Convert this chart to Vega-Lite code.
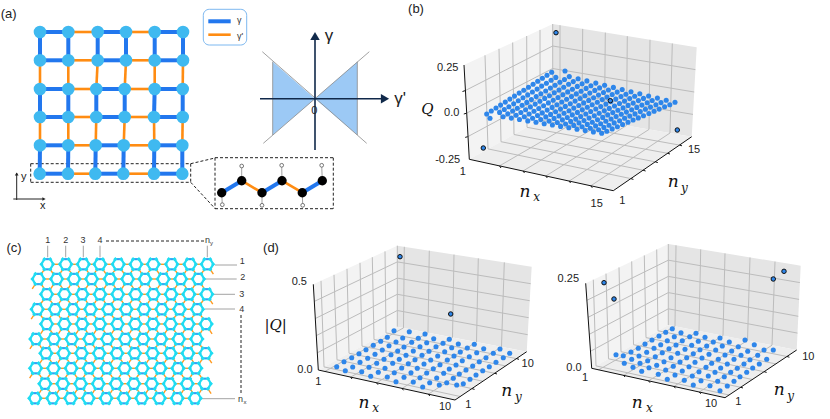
{"$schema":"https://vega.github.io/schema/vega-lite/v6.json","width":830,"height":419,"padding":0,"autosize":"none","background":"white","config":{"view":{"stroke":null}},
"datasets":{
"panes":[
{"p":"b1","w":"L","x":464,"y":65,"y2":65},{"p":"b1","w":"L","x":469.3,"y":62.5,"y2":159.3},{"p":"b1","w":"L","x":552.7,"y":24,"y2":113},
{"p":"b2","w":"R","x":552.7,"y":24,"y2":113},{"p":"b2","w":"R","x":691.7,"y":46.5,"y2":136.7},{"p":"b2","w":"R","x":696.7,"y":47.3,"y2":47.3},
{"p":"b3","w":"F","x":469.3,"y":159.3,"y2":159.3},{"p":"b3","w":"F","x":552.7,"y":113,"y2":177.5},{"p":"b3","w":"F","x":613.3,"y":123.3,"y2":190.7},{"p":"b3","w":"F","x":691.7,"y":136.7,"y2":136.7},
{"p":"c1","w":"L","x":313.3,"y":284.3,"y2":284.3},{"p":"c1","w":"L","x":318.3,"y":282,"y2":370},{"p":"c1","w":"L","x":397.3,"y":245.7,"y2":326.7},
{"p":"c2","w":"R","x":397.3,"y":245.7,"y2":326.7},{"p":"c2","w":"R","x":526.7,"y":265.9,"y2":351.7},{"p":"c2","w":"R","x":531.7,"y":266.7,"y2":266.7},
{"p":"c3","w":"F","x":318.3,"y":370,"y2":370},{"p":"c3","w":"F","x":397.3,"y":326.7,"y2":387.3},{"p":"c3","w":"F","x":455,"y":338,"y2":400},{"p":"c3","w":"F","x":526.7,"y":351.7,"y2":351.7},
{"p":"d1","w":"L","x":585.7,"y":283.3,"y2":283.3},{"p":"d1","w":"L","x":591.7,"y":280.4,"y2":368.3},{"p":"d1","w":"L","x":668.3,"y":244,"y2":325},
{"p":"d2","w":"R","x":668.3,"y":244,"y2":325},{"p":"d2","w":"R","x":796.7,"y":265,"y2":350},{"p":"d2","w":"R","x":800.7,"y":265.7,"y2":265.7},
{"p":"d3","w":"F","x":591.7,"y":368.3,"y2":368.3},{"p":"d3","w":"F","x":668.3,"y":325,"y2":385.2},{"p":"d3","w":"F","x":725,"y":336,"y2":397.7},{"p":"d3","w":"F","x":796.7,"y":350,"y2":350}
],
"tri":[
{"p":"l","x":272.7,"y":61.7,"y2":135},{"p":"l","x":315,"y":98.7,"y2":98.7},{"p":"r","x":315,"y":98.7,"y2":98.7},{"p":"r","x":357.3,"y":61.7,"y2":135}
],
"grid":[
{"x":485,"y":55.3,"x2":488,"y2":148.9},{"x":499,"y":48.8,"x2":501,"y2":141.7},{"x":512.7,"y":42.5,"x2":514,"y2":134.5},{"x":526.7,"y":36,"x2":527,"y2":127.3},{"x":540,"y":29.9,"x2":540,"y2":120},
{"x":465,"y":90.7,"x2":552.7,"y2":46},{"x":466.3,"y":113.3,"x2":552.7,"y2":68.5},{"x":467.7,"y":136.7,"x2":552.7,"y2":91},
{"x":552.7,"y":46,"x2":695.4,"y2":69.6},{"x":552.7,"y":68.5,"x2":694.2,"y2":92},{"x":552.7,"y":91,"x2":693,"y2":114.4},
{"x":552.7,"y":24,"x2":552.7,"y2":113},{"x":560,"y":25.2,"x2":560,"y2":114.2},{"x":582.7,"y":28.9,"x2":582,"y2":118},{"x":605.3,"y":32.6,"x2":604.5,"y2":121.7},{"x":627.3,"y":36.2,"x2":626.5,"y2":125.5},{"x":650,"y":39.8,"x2":649,"y2":129.4},{"x":672.3,"y":43.5,"x2":670,"y2":133},
{"x":488,"y":148.9,"x2":630.9,"y2":178.6},{"x":501,"y":141.7,"x2":643.1,"y2":170.2},{"x":514,"y":134.5,"x2":655.3,"y2":161.8},{"x":527,"y":127.3,"x2":667.6,"y2":153.3},{"x":540,"y":120,"x2":679.6,"y2":145.1},
{"x":582,"y":118,"x2":499.5,"y2":165.9},{"x":604.5,"y":121.7,"x2":523,"y2":171},{"x":626.5,"y":125.5,"x2":545.8,"y2":176},{"x":649,"y":129.4,"x2":569.1,"y2":181.1},{"x":670,"y":133,"x2":590.8,"y2":185.8},
{"x":321,"y":280.8,"x2":324,"y2":366.9},{"x":334,"y":274.8,"x2":337,"y2":359.8},{"x":347,"y":268.8,"x2":349,"y2":353.2},{"x":360,"y":262.8,"x2":362,"y2":346.1},{"x":372.3,"y":257.2,"x2":374,"y2":339.5},{"x":385,"y":251.4,"x2":386,"y2":332.9},
{"x":314.3,"y":301.4,"x2":397.3,"y2":261.9},{"x":315.3,"y":318.5,"x2":397.3,"y2":278.1},{"x":316.3,"y":335.6,"x2":397.3,"y2":294.3},{"x":317.3,"y":352.8,"x2":397.3,"y2":310.5},
{"x":397.3,"y":261.9,"x2":530.7,"y2":283.7},{"x":397.3,"y":278.1,"x2":529.7,"y2":300.7},{"x":397.3,"y":294.3,"x2":528.7,"y2":317.7},{"x":397.3,"y":310.5,"x2":527.7,"y2":334.7},
{"x":397.3,"y":245.7,"x2":397.3,"y2":326.7},{"x":404.3,"y":246.8,"x2":403.5,"y2":327.9},{"x":429.3,"y":250.7,"x2":428,"y2":332.7},{"x":454,"y":254.6,"x2":452.5,"y2":337.4},{"x":478.3,"y":258.4,"x2":476.5,"y2":342},{"x":504.3,"y":262.4,"x2":501.5,"y2":346.8},
{"x":324,"y":366.9,"x2":460.2,"y2":396.5},{"x":337,"y":359.8,"x2":472,"y2":388.6},{"x":349,"y":353.2,"x2":482.9,"y2":381.2},{"x":362,"y":346.1,"x2":494.7,"y2":373.3},{"x":374,"y":339.5,"x2":505.5,"y2":365.9},{"x":386,"y":332.9,"x2":516.4,"y2":358.6},
{"x":403.5,"y":327.9,"x2":324.9,"y2":371.4},{"x":428,"y":332.7,"x2":350.7,"y2":377.1},{"x":452.5,"y":337.4,"x2":376.5,"y2":382.8},{"x":476.5,"y":342,"x2":402,"y2":388.4},{"x":501.5,"y":346.8,"x2":428.3,"y2":394.2},
{"x":593.3,"y":279.7,"x2":596,"y2":365.9},{"x":606,"y":273.6,"x2":608.5,"y2":358.8},{"x":619,"y":267.4,"x2":621,"y2":351.7},{"x":631.7,"y":261.4,"x2":633.5,"y2":344.7},{"x":644.3,"y":255.4,"x2":646,"y2":337.6},{"x":656.7,"y":249.5,"x2":658,"y2":330.8},
{"x":586.9,"y":300.3,"x2":668.3,"y2":260.2},{"x":588.1,"y":317.3,"x2":668.3,"y2":276.4},{"x":589.3,"y":334.3,"x2":668.3,"y2":292.6},{"x":590.5,"y":351.3,"x2":668.3,"y2":308.8},
{"x":668.3,"y":260.2,"x2":799.9,"y2":282.6},{"x":668.3,"y":276.4,"x2":799.1,"y2":299.4},{"x":668.3,"y":292.6,"x2":798.3,"y2":316.3},{"x":668.3,"y":308.8,"x2":797.5,"y2":333.1},
{"x":668.3,"y":244,"x2":668.3,"y2":325},{"x":676,"y":245.3,"x2":675,"y2":326.3},{"x":700.7,"y":249.4,"x2":699,"y2":331},{"x":725,"y":253.4,"x2":723,"y2":335.7},{"x":750,"y":257.5,"x2":747.5,"y2":340.5},{"x":775,"y":261.6,"x2":772,"y2":345.2},
{"x":596,"y":365.9,"x2":729,"y2":395},{"x":608.5,"y":358.8,"x2":740.7,"y2":387.3},{"x":621,"y":351.7,"x2":752.4,"y2":379.5},{"x":633.5,"y":344.7,"x2":764.1,"y2":371.7},{"x":646,"y":337.6,"x2":775.8,"y2":363.9},{"x":658,"y":330.8,"x2":787,"y2":356.5},
{"x":675,"y":326.3,"x2":598.6,"y2":369.8},{"x":699,"y":331,"x2":623.6,"y2":375.3},{"x":723,"y":335.7,"x2":648.5,"y2":380.8},{"x":747.5,"y":340.5,"x2":673.9,"y2":386.4},{"x":772,"y":345.2,"x2":699.3,"y2":392}
],
"axes":[
{"x":464,"y":65,"x2":469.3,"y2":159.3},{"x":469.3,"y":159.3,"x2":613.3,"y2":190.7},{"x":613.3,"y":190.7,"x2":691.7,"y2":136.7},
{"x":313.3,"y":284.3,"x2":318.3,"y2":370},{"x":318.3,"y":370,"x2":455,"y2":400},{"x":455,"y":400,"x2":526.7,"y2":351.7},
{"x":585.7,"y":283.3,"x2":591.7,"y2":368.3},{"x":591.7,"y":368.3,"x2":725,"y2":397.7},{"x":725,"y":397.7,"x2":796.7,"y2":350},
{"x":465,"y":90.7,"x2":462.5,"y2":91.5},{"x":466.3,"y":113.3,"x2":463.8,"y2":114},{"x":467.7,"y":136.7,"x2":465.2,"y2":137.4},
{"x":499.5,"y":165.9,"x2":501,"y2":168},{"x":523,"y":171,"x2":524.5,"y2":173},{"x":545.8,"y":176,"x2":547.3,"y2":178},{"x":569.1,"y":181.1,"x2":570.6,"y2":183},{"x":590.8,"y":185.8,"x2":592.3,"y2":187.8},
{"x":630.9,"y":178.6,"x2":633.4,"y2":179.4},{"x":643.1,"y":170.2,"x2":645.6,"y2":171},{"x":655.3,"y":161.8,"x2":657.8,"y2":162.6},{"x":667.6,"y":153.3,"x2":670,"y2":154},{"x":679.6,"y":145.1,"x2":682,"y2":145.8},
{"x":350.7,"y":377.1,"x2":352,"y2":379},{"x":376.5,"y":382.8,"x2":378,"y2":384.7},{"x":402,"y":388.4,"x2":403.5,"y2":390.3},{"x":428.3,"y":394.2,"x2":429.8,"y2":396},
{"x":472,"y":388.6,"x2":474.5,"y2":389.4},{"x":494.7,"y":373.3,"x2":497,"y2":374},{"x":516.4,"y":358.6,"x2":519,"y2":359.3},
{"x":623.6,"y":375.3,"x2":625,"y2":377},{"x":648.5,"y":380.8,"x2":650,"y2":382.7},{"x":673.9,"y":386.4,"x2":675.4,"y2":388.2},{"x":699.3,"y":392,"x2":700.8,"y2":393.8},
{"x":740.7,"y":387.3,"x2":743,"y2":388},{"x":764.1,"y":371.7,"x2":766.6,"y2":372.4},{"x":787,"y":356.5,"x2":789.4,"y2":357.2}
],
"blueBonds":[
{"x":40,"y":32,"x2":68.3,"y2":32},{"x":97.7,"y":32,"x2":126,"y2":32},{"x":154.7,"y":32,"x2":183,"y2":32},
{"x":40,"y":60.3,"x2":68.3,"y2":60.3},{"x":97.7,"y":60.3,"x2":126,"y2":60.3},{"x":154.7,"y":60.3,"x2":183,"y2":60.3},
{"x":40,"y":89,"x2":68.3,"y2":89},{"x":96.3,"y":89,"x2":124.7,"y2":89},{"x":154.7,"y":89,"x2":182.7,"y2":89},
{"x":40,"y":117,"x2":68.3,"y2":117},{"x":96.3,"y":117,"x2":124.7,"y2":117},{"x":154,"y":117,"x2":182.7,"y2":117},
{"x":40,"y":145.3,"x2":68.3,"y2":145.3},{"x":95.7,"y":145.3,"x2":123.7,"y2":145.3},{"x":154.3,"y":145.3,"x2":182.3,"y2":145.3},
{"x":39.7,"y":173.7,"x2":68,"y2":173.7},{"x":95.3,"y":173.7,"x2":123.3,"y2":173.7},{"x":154,"y":173.7,"x2":182.3,"y2":173.7},
{"x":40,"y":32,"x2":40,"y2":60.3},{"x":68.3,"y":32,"x2":68.3,"y2":60.3},{"x":97.7,"y":32,"x2":97.7,"y2":60.3},{"x":126,"y":32,"x2":126,"y2":60.3},{"x":154.7,"y":32,"x2":154.7,"y2":60.3},{"x":183,"y":32,"x2":183,"y2":60.3},
{"x":40,"y":89,"x2":40,"y2":117},{"x":68.3,"y":89,"x2":68.3,"y2":117},{"x":96.3,"y":89,"x2":96.3,"y2":117},{"x":124.7,"y":89,"x2":124.7,"y2":117},{"x":154.7,"y":89,"x2":154,"y2":117},{"x":182.7,"y":89,"x2":182.7,"y2":117},
{"x":40,"y":145.3,"x2":39.7,"y2":173.7},{"x":68.3,"y":145.3,"x2":68,"y2":173.7},{"x":95.7,"y":145.3,"x2":95.3,"y2":173.7},{"x":123.7,"y":145.3,"x2":123.3,"y2":173.7},{"x":154.3,"y":145.3,"x2":154,"y2":173.7},{"x":182.3,"y":145.3,"x2":182.3,"y2":173.7},
{"x":208.3,"y":21.3,"x2":230.7,"y2":21.3},
{"x":221.7,"y":192.7,"x2":241.7,"y2":180.7},{"x":262,"y":192.7,"x2":282,"y2":180.7},{"x":302.3,"y":192.7,"x2":322.3,"y2":180.7}
],
"orangeBonds":[
{"x":68.3,"y":32,"x2":97.7,"y2":32},{"x":126,"y":32,"x2":154.7,"y2":32},{"x":68.3,"y":60.3,"x2":97.7,"y2":60.3},{"x":126,"y":60.3,"x2":154.7,"y2":60.3},
{"x":68.3,"y":89,"x2":96.3,"y2":89},{"x":124.7,"y":89,"x2":154.7,"y2":89},{"x":68.3,"y":117,"x2":96.3,"y2":117},{"x":124.7,"y":117,"x2":154,"y2":117},
{"x":68.3,"y":145.3,"x2":95.7,"y2":145.3},{"x":123.7,"y":145.3,"x2":154.3,"y2":145.3},{"x":68,"y":173.7,"x2":95.3,"y2":173.7},{"x":123.3,"y":173.7,"x2":154,"y2":173.7},
{"x":40,"y":60.3,"x2":40,"y2":89},{"x":68.3,"y":60.3,"x2":68.3,"y2":89},{"x":97.7,"y":60.3,"x2":96.3,"y2":89},{"x":126,"y":60.3,"x2":124.7,"y2":89},{"x":154.7,"y":60.3,"x2":154.7,"y2":89},{"x":183,"y":60.3,"x2":182.7,"y2":89},
{"x":40,"y":117,"x2":40,"y2":145.3},{"x":68.3,"y":117,"x2":68.3,"y2":145.3},{"x":96.3,"y":117,"x2":95.7,"y2":145.3},{"x":124.7,"y":117,"x2":123.7,"y2":145.3},{"x":154,"y":117,"x2":154.3,"y2":145.3},{"x":182.7,"y":117,"x2":182.3,"y2":145.3},
{"x":208.3,"y":34.7,"x2":230.7,"y2":34.7},
{"x":241.7,"y":180.7,"x2":262,"y2":192.7},{"x":282,"y":180.7,"x2":302.3,"y2":192.7}
],
"nodes":[
{"x":40,"y":32},{"x":68.3,"y":32},{"x":97.7,"y":32},{"x":126,"y":32},{"x":154.7,"y":32},{"x":183,"y":32},
{"x":40,"y":60.3},{"x":68.3,"y":60.3},{"x":97.7,"y":60.3},{"x":126,"y":60.3},{"x":154.7,"y":60.3},{"x":183,"y":60.3},
{"x":40,"y":89},{"x":68.3,"y":89},{"x":96.3,"y":89},{"x":124.7,"y":89},{"x":154.7,"y":89},{"x":182.7,"y":89},
{"x":40,"y":117},{"x":68.3,"y":117},{"x":96.3,"y":117},{"x":124.7,"y":117},{"x":154,"y":117},{"x":182.7,"y":117},
{"x":40,"y":145.3},{"x":68.3,"y":145.3},{"x":95.7,"y":145.3},{"x":123.7,"y":145.3},{"x":154.3,"y":145.3},{"x":182.3,"y":145.3},
{"x":39.7,"y":173.7},{"x":68,"y":173.7},{"x":95.3,"y":173.7},{"x":123.3,"y":173.7},{"x":154,"y":173.7},{"x":182.3,"y":173.7}
],
"dashes":[
{"x":30.7,"y":163.7,"x2":190.7,"y2":163.7},{"x":30.7,"y":182.3,"x2":190.7,"y2":182.3},{"x":30.7,"y":163.7,"x2":30.7,"y2":182.3},{"x":190.7,"y":163.7,"x2":190.7,"y2":182.3},
{"x":190.7,"y":163.7,"x2":215,"y2":158},{"x":190.7,"y":182.3,"x2":215,"y2":208.5},
{"x":215,"y":157.7,"x2":333.3,"y2":157.7},{"x":215,"y":208.7,"x2":333.3,"y2":208.7},{"x":215,"y":157.7,"x2":215,"y2":208.7},{"x":333.3,"y":157.7,"x2":333.3,"y2":208.7},
{"x":106,"y":241,"x2":204,"y2":241},{"x":241,"y":315,"x2":241,"y2":393}
],
"thin":[
{"x":221.7,"y":192.7,"x2":222.3,"y2":204.7},{"x":241.7,"y":180.7,"x2":241.7,"y2":166},{"x":262,"y":192.7,"x2":262,"y2":205.3},{"x":282,"y":180.7,"x2":281.7,"y2":165.3},{"x":302.3,"y":192.7,"x2":302.7,"y2":205.3},{"x":322.3,"y":180.7,"x2":321.7,"y2":165.3},
{"x":262.3,"y":51.7,"x2":366.7,"y2":143.3},{"x":369.3,"y":51.7,"x2":263.3,"y2":143.3},{"x":272.7,"y":61.7,"x2":272.7,"y2":135},{"x":357.3,"y":61.7,"x2":357.3,"y2":135},
{"x":47.7,"y":245.7,"x2":47.7,"y2":257.3},{"x":65.7,"y":245.7,"x2":65.7,"y2":257.3},{"x":83.3,"y":245.7,"x2":83.3,"y2":257.3},{"x":100,"y":245.7,"x2":100,"y2":257.3},{"x":207.3,"y":245.7,"x2":207.3,"y2":257.3},
{"x":215,"y":265,"x2":237,"y2":265},{"x":205,"y":279,"x2":236.7,"y2":279},{"x":213,"y":294.3,"x2":235,"y2":294.3},{"x":205,"y":309,"x2":235,"y2":309},{"x":201.7,"y":398.7,"x2":235,"y2":398.7}
],
"navy":[
{"x":315,"y":150,"x2":315,"y2":38},{"x":260,"y":98.7,"x2":384,"y2":98.7}
],
"black":[
{"x":16.7,"y":200,"x2":16.7,"y2":173},{"x":13.3,"y":199,"x2":43,"y2":199}
],
"atoms":[
{"x":221.7,"y":192.7},{"x":241.7,"y":180.7},{"x":262,"y":192.7},{"x":282,"y":180.7},{"x":302.3,"y":192.7},{"x":322.3,"y":180.7}
],
"hydrogens":[
{"x":222.3,"y":204.7},{"x":241.7,"y":166},{"x":262,"y":205.3},{"x":281.7,"y":165.3},{"x":302.7,"y":205.3},{"x":321.7,"y":165.3}
],
"hexes":[
{"r":1,"c":1,"x":47.3,"y":264.3},{"r":1,"c":2,"x":65.7,"y":264.3},{"r":1,"c":3,"x":83.3,"y":264.3},{"r":1,"c":4,"x":100,"y":264.3},{"r":1,"c":5,"x":118.3,"y":264.3},{"r":1,"c":6,"x":136,"y":264.3},{"r":1,"c":7,"x":153.3,"y":264.3},{"r":1,"c":8,"x":171.7,"y":264.3},{"r":1,"c":9,"x":190,"y":264.3},{"r":1,"c":10,"x":207.3,"y":264.3},
{"r":2,"c":1,"x":38.3,"y":279},{"r":2,"c":2,"x":56.7,"y":279},{"r":2,"c":3,"x":74,"y":279},{"r":2,"c":4,"x":91.7,"y":279},{"r":2,"c":5,"x":110,"y":279},{"r":2,"c":6,"x":127.7,"y":279},{"r":2,"c":7,"x":145,"y":279},{"r":2,"c":8,"x":163.3,"y":279},{"r":2,"c":9,"x":180.7,"y":279},{"r":2,"c":10,"x":198.3,"y":279},
{"r":3,"c":1,"x":46.7,"y":294.3},{"r":3,"c":2,"x":64.5,"y":294.3},{"r":3,"c":3,"x":82.2,"y":294.3},{"r":3,"c":4,"x":100,"y":294.3},{"r":3,"c":5,"x":117.8,"y":294.3},{"r":3,"c":6,"x":135.6,"y":294.3},{"r":3,"c":7,"x":153.4,"y":294.3},{"r":3,"c":8,"x":171.1,"y":294.3},{"r":3,"c":9,"x":188.9,"y":294.3},{"r":3,"c":10,"x":206.7,"y":294.3},
{"r":4,"c":1,"x":37.3,"y":309.3},{"r":4,"c":2,"x":55.1,"y":309.3},{"r":4,"c":3,"x":72.9,"y":309.3},{"r":4,"c":4,"x":90.6,"y":309.3},{"r":4,"c":5,"x":108.4,"y":309.3},{"r":4,"c":6,"x":126.2,"y":309.3},{"r":4,"c":7,"x":144,"y":309.3},{"r":4,"c":8,"x":161.8,"y":309.3},{"r":4,"c":9,"x":179.5,"y":309.3},{"r":4,"c":10,"x":197.3,"y":309.3},
{"r":5,"c":1,"x":46.7,"y":324},{"r":5,"c":2,"x":64.4,"y":324},{"r":5,"c":3,"x":82.1,"y":324},{"r":5,"c":4,"x":99.8,"y":324},{"r":5,"c":5,"x":117.5,"y":324},{"r":5,"c":6,"x":135.2,"y":324},{"r":5,"c":7,"x":152.9,"y":324},{"r":5,"c":8,"x":170.6,"y":324},{"r":5,"c":9,"x":188.3,"y":324},{"r":5,"c":10,"x":206,"y":324},
{"r":6,"c":1,"x":36,"y":339},{"r":6,"c":2,"x":53.9,"y":339},{"r":6,"c":3,"x":71.7,"y":339},{"r":6,"c":4,"x":89.6,"y":339},{"r":6,"c":5,"x":107.4,"y":339},{"r":6,"c":6,"x":125.3,"y":339},{"r":6,"c":7,"x":143.1,"y":339},{"r":6,"c":8,"x":161,"y":339},{"r":6,"c":9,"x":178.8,"y":339},{"r":6,"c":10,"x":196.7,"y":339},
{"r":7,"c":1,"x":46,"y":353.3},{"r":7,"c":2,"x":63.7,"y":353.3},{"r":7,"c":3,"x":81.5,"y":353.3},{"r":7,"c":4,"x":99.2,"y":353.3},{"r":7,"c":5,"x":117,"y":353.3},{"r":7,"c":6,"x":134.7,"y":353.3},{"r":7,"c":7,"x":152.5,"y":353.3},{"r":7,"c":8,"x":170.2,"y":353.3},{"r":7,"c":9,"x":188,"y":353.3},{"r":7,"c":10,"x":205.7,"y":353.3},
{"r":8,"c":1,"x":35.7,"y":368.3},{"r":8,"c":2,"x":53.5,"y":368.3},{"r":8,"c":3,"x":71.2,"y":368.3},{"r":8,"c":4,"x":89,"y":368.3},{"r":8,"c":5,"x":106.8,"y":368.3},{"r":8,"c":6,"x":124.6,"y":368.3},{"r":8,"c":7,"x":142.4,"y":368.3},{"r":8,"c":8,"x":160.2,"y":368.3},{"r":8,"c":9,"x":177.9,"y":368.3},{"r":8,"c":10,"x":195.7,"y":368.3},
{"r":9,"c":1,"x":45,"y":383.7},{"r":9,"c":2,"x":62.8,"y":383.7},{"r":9,"c":3,"x":80.6,"y":383.7},{"r":9,"c":4,"x":98.3,"y":383.7},{"r":9,"c":5,"x":116.1,"y":383.7},{"r":9,"c":6,"x":133.9,"y":383.7},{"r":9,"c":7,"x":151.7,"y":383.7},{"r":9,"c":8,"x":169.4,"y":383.7},{"r":9,"c":9,"x":187.2,"y":383.7},{"r":9,"c":10,"x":205,"y":383.7},
{"r":10,"c":1,"x":35,"y":398.3},{"r":10,"c":2,"x":52.8,"y":398.3},{"r":10,"c":3,"x":70.6,"y":398.3},{"r":10,"c":4,"x":88.3,"y":398.3},{"r":10,"c":5,"x":106.1,"y":398.3},{"r":10,"c":6,"x":123.9,"y":398.3},{"r":10,"c":7,"x":141.7,"y":398.3},{"r":10,"c":8,"x":159.4,"y":398.3},{"r":10,"c":9,"x":177.2,"y":398.3},{"r":10,"c":10,"x":195,"y":398.3}
],
"dots":[
{"x":486.7,"y":114},{"x":490,"y":118.3},{"x":503.1,"y":116.8},{"x":511.3,"y":118.1},{"x":519.5,"y":119.5},{"x":527.8,"y":120.9},{"x":536,"y":122.3},{"x":544.2,"y":123.7},{"x":552.4,"y":125},{"x":560.6,"y":126.4},{"x":568.8,"y":127.8},{"x":577,"y":129.2},{"x":585.2,"y":130.6},{"x":593.4,"y":131.9},{"x":601.7,"y":133.3},
{"x":491.3,"y":111},{"x":499.6,"y":112.4},{"x":507.8,"y":113.9},{"x":516.1,"y":115.3},{"x":524.3,"y":116.8},{"x":532.6,"y":118.2},{"x":540.8,"y":119.6},{"x":549.1,"y":121.1},{"x":557.3,"y":122.5},{"x":565.6,"y":124},{"x":573.8,"y":125.4},{"x":582.1,"y":126.8},{"x":590.3,"y":128.3},{"x":598.6,"y":129.7},{"x":606.8,"y":131.2},
{"x":496,"y":108},{"x":504.3,"y":109.5},{"x":512.6,"y":111},{"x":520.9,"y":112.5},{"x":529.2,"y":114},{"x":537.5,"y":115.5},{"x":545.8,"y":116.9},{"x":554.1,"y":118.4},{"x":562.4,"y":119.9},{"x":570.7,"y":121.4},{"x":579,"y":122.9},{"x":587.3,"y":124.4},{"x":595.6,"y":125.9},{"x":603.9,"y":127.4},{"x":612.2,"y":128.9},
{"x":500.6,"y":105.1},{"x":508.9,"y":106.7},{"x":517.3,"y":108.2},{"x":525.6,"y":109.8},{"x":534,"y":111.3},{"x":542.3,"y":112.9},{"x":550.6,"y":114.4},{"x":559,"y":116},{"x":567.3,"y":117.5},{"x":575.7,"y":119.1},{"x":584,"y":120.6},{"x":592.3,"y":122.2},{"x":600.7,"y":123.7},{"x":609,"y":125.3},{"x":617.4,"y":126.8},
{"x":505.3,"y":102.1},{"x":513.7,"y":103.7},{"x":522.1,"y":105.3},{"x":530.4,"y":106.9},{"x":538.8,"y":108.5},{"x":547.2,"y":110.1},{"x":555.6,"y":111.7},{"x":564,"y":113.3},{"x":572.3,"y":114.9},{"x":580.7,"y":116.5},{"x":589.1,"y":118.1},{"x":597.5,"y":119.7},{"x":605.9,"y":121.3},{"x":614.2,"y":122.9},{"x":622.6,"y":124.5},
{"x":509.9,"y":99.1},{"x":518.3,"y":100.8},{"x":526.8,"y":102.4},{"x":535.2,"y":104.1},{"x":543.6,"y":105.7},{"x":552.1,"y":107.4},{"x":560.5,"y":109.1},{"x":569,"y":110.7},{"x":577.4,"y":112.4},{"x":585.8,"y":114},{"x":594.3,"y":115.7},{"x":602.7,"y":117.4},{"x":611.1,"y":119},{"x":619.6,"y":120.7},{"x":628,"y":122.3},
{"x":514.5,"y":96.1},{"x":523,"y":97.8},{"x":531.4,"y":99.5},{"x":539.9,"y":101.2},{"x":548.4,"y":102.9},{"x":556.9,"y":104.7},{"x":565.3,"y":106.4},{"x":573.8,"y":108.1},{"x":582.3,"y":109.8},{"x":590.7,"y":111.5},{"x":599.2,"y":113.2},{"x":607.7,"y":114.9},{"x":616.1,"y":116.6},{"x":624.6,"y":118.3},{"x":633.1,"y":120},
{"x":519.2,"y":93.1},{"x":527.7,"y":94.9},{"x":536.2,"y":96.6},{"x":544.7,"y":98.4},{"x":553.2,"y":100.2},{"x":561.8,"y":102},{"x":570.3,"y":103.7},{"x":578.8,"y":105.5},{"x":587.3,"y":107.3},{"x":595.8,"y":109},{"x":604.3,"y":110.8},{"x":612.8,"y":112.6},{"x":621.3,"y":114.3},{"x":629.8,"y":116.1},{"x":638.3,"y":117.9},
{"x":523.8,"y":90.2},{"x":532.4,"y":92},{"x":540.9,"y":93.8},{"x":549.5,"y":95.7},{"x":558,"y":97.5},{"x":566.6,"y":99.3},{"x":575.1,"y":101.1},{"x":583.7,"y":102.9},{"x":592.2,"y":104.8},{"x":600.8,"y":106.6},{"x":609.3,"y":108.4},{"x":617.9,"y":110.2},{"x":626.4,"y":112},{"x":635,"y":113.9},{"x":643.5,"y":115.7},
{"x":528.5,"y":87.2},{"x":537.1,"y":89.1},{"x":545.7,"y":91},{"x":554.3,"y":92.8},{"x":562.9,"y":94.7},{"x":571.5,"y":96.6},{"x":580.1,"y":98.5},{"x":588.7,"y":100.4},{"x":597.3,"y":102.2},{"x":605.9,"y":104.1},{"x":614.5,"y":106},{"x":623.1,"y":107.9},{"x":631.7,"y":109.8},{"x":640.3,"y":111.6},{"x":648.9,"y":113.5},
{"x":533.1,"y":84.2},{"x":541.7,"y":86.1},{"x":550.4,"y":88.1},{"x":559,"y":90},{"x":567.7,"y":91.9},{"x":576.3,"y":93.9},{"x":584.9,"y":95.8},{"x":593.6,"y":97.7},{"x":602.2,"y":99.6},{"x":610.9,"y":101.6},{"x":619.5,"y":103.5},{"x":628.1,"y":105.4},{"x":636.8,"y":107.4},{"x":645.4,"y":109.3},{"x":654.1,"y":111.2},
{"x":537.7,"y":81.2},{"x":546.4,"y":83.2},{"x":555.1,"y":85.2},{"x":563.7,"y":87.2},{"x":572.4,"y":89.2},{"x":581.1,"y":91.2},{"x":589.8,"y":93.1},{"x":598.5,"y":95.1},{"x":607.1,"y":97.1},{"x":615.8,"y":99.1},{"x":624.5,"y":101.1},{"x":633.2,"y":103.1},{"x":641.9,"y":105.1},{"x":650.5,"y":107.1},{"x":659.2,"y":109.1},
{"x":542.4,"y":78.2},{"x":551.1,"y":80.2},{"x":559.9,"y":82.3},{"x":568.6,"y":84.3},{"x":577.3,"y":86.4},{"x":586.1,"y":88.4},{"x":594.8,"y":90.4},{"x":603.5,"y":92.5},{"x":612.2,"y":94.5},{"x":621,"y":96.6},{"x":629.7,"y":98.6},{"x":638.4,"y":100.6},{"x":647.2,"y":102.7},{"x":655.9,"y":104.7},{"x":664.6,"y":106.8},
{"x":547,"y":75.3},{"x":555.8,"y":77.4},{"x":564.5,"y":79.5},{"x":573.3,"y":81.6},{"x":582.1,"y":83.7},{"x":590.9,"y":85.8},{"x":599.6,"y":87.9},{"x":608.4,"y":90},{"x":617.2,"y":92.1},{"x":625.9,"y":94.2},{"x":634.7,"y":96.3},{"x":643.5,"y":98.4},{"x":652.2,"y":100.5},{"x":661,"y":102.6},{"x":669.8,"y":104.7},
{"x":551.7,"y":72.3},{"x":565,"y":71},{"x":569.3,"y":76.6},{"x":578.1,"y":78.8},{"x":586.9,"y":80.9},{"x":595.8,"y":83.1},{"x":604.6,"y":85.2},{"x":613.4,"y":87.4},{"x":622.2,"y":89.5},{"x":631,"y":91.7},{"x":639.8,"y":93.8},{"x":648.6,"y":96},{"x":657.4,"y":98.1},{"x":666.2,"y":100.3},{"x":675,"y":102.3},
{"x":336.7,"y":366.7},{"x":344,"y":361.7},{"x":351.7,"y":357.7},{"x":359,"y":353.7},{"x":366,"y":349.7},{"x":373.3,"y":345.3},{"x":380.7,"y":341.3},{"x":387.3,"y":337.3},{"x":394,"y":330.7},
{"x":345.3,"y":370.7},{"x":352.7,"y":367},{"x":360,"y":362.3},{"x":367.7,"y":358.3},{"x":375,"y":354.3},{"x":382.3,"y":350},{"x":389,"y":345.7},{"x":396,"y":342},{"x":402.7,"y":338},{"x":409.3,"y":331.7},
{"x":361.7,"y":371.7},{"x":369,"y":367.3},{"x":376.7,"y":363.3},{"x":384,"y":359.3},{"x":391,"y":354.7},{"x":397.7,"y":351},{"x":404,"y":347},{"x":411.7,"y":342.3},{"x":418.3,"y":338.3},{"x":425,"y":334},
{"x":370.7,"y":376.3},{"x":378.3,"y":372.3},{"x":385,"y":368.3},{"x":392.7,"y":363.3},{"x":399.3,"y":359.3},{"x":406,"y":355.3},{"x":413.3,"y":351},{"x":420,"y":346.7},{"x":426.7,"y":342.7},{"x":433.7,"y":338.7},
{"x":387.3,"y":377},{"x":394.3,"y":372.7},{"x":401.7,"y":368},{"x":408.3,"y":363.7},{"x":415,"y":359.7},{"x":422,"y":355.3},{"x":429,"y":351.3},{"x":436,"y":346.7},{"x":443,"y":343.3},{"x":449.3,"y":339.3},
{"x":396,"y":381.7},{"x":404,"y":377.3},{"x":411,"y":372.7},{"x":417.3,"y":368.3},{"x":424,"y":364},{"x":430.7,"y":360},{"x":437.7,"y":356},{"x":444.7,"y":351.7},{"x":451.7,"y":347.7},{"x":458.3,"y":344},
{"x":413.3,"y":382},{"x":420,"y":377.7},{"x":426.7,"y":373},{"x":433.3,"y":368.7},{"x":440,"y":364.7},{"x":447.3,"y":360},{"x":454,"y":356},{"x":460.3,"y":352},{"x":467.3,"y":348},{"x":474.3,"y":344.3},
{"x":422.7,"y":387},{"x":429.7,"y":382.7},{"x":436.7,"y":378},{"x":443.7,"y":373.3},{"x":449.3,"y":369},{"x":456,"y":365},{"x":462.3,"y":360.7},{"x":469.3,"y":356.7},{"x":476.7,"y":352.7},{"x":483.7,"y":348.7},
{"x":439.3,"y":385},{"x":446.7,"y":382.7},{"x":453.3,"y":378.3},{"x":459.3,"y":374},{"x":466,"y":370},{"x":472.7,"y":366},{"x":479.3,"y":361.7},{"x":486,"y":357.7},{"x":493.3,"y":353.3},{"x":500,"y":349},
{"x":456.7,"y":385},{"x":463.3,"y":383.7},{"x":470,"y":379.3},{"x":476,"y":375},{"x":482.7,"y":370.7},{"x":489.3,"y":366.7},{"x":496,"y":362.3},{"x":503.3,"y":357.7},{"x":509.7,"y":353.3},
{"x":616,"y":354.7},
{"x":623.3,"y":355.7},{"x":631,"y":352},{"x":638.3,"y":348.3},{"x":645,"y":344},{"x":652,"y":340},{"x":659,"y":336},{"x":665.7,"y":332.3},{"x":672.3,"y":328.7},
{"x":624.3,"y":363.3},{"x":631.7,"y":359.3},{"x":639,"y":356},{"x":646.7,"y":352.3},{"x":654,"y":348.3},{"x":660.7,"y":344.7},{"x":667.3,"y":340.7},{"x":674.3,"y":336.7},{"x":681,"y":332.7},
{"x":633,"y":367.3},{"x":640,"y":363.3},{"x":647.7,"y":360.7},{"x":655.3,"y":356.7},{"x":662.3,"y":352.7},{"x":669,"y":348.7},{"x":676,"y":345},{"x":682.3,"y":340.7},{"x":689.7,"y":336.7},{"x":696,"y":333.3},
{"x":641.7,"y":371.3},{"x":649,"y":367.7},{"x":656.7,"y":365.3},{"x":664,"y":361.7},{"x":671,"y":357.7},{"x":677.7,"y":353.3},{"x":685,"y":349.3},{"x":691.7,"y":345.3},{"x":698.3,"y":341.3},{"x":705,"y":337.3},
{"x":658.3,"y":374.3},{"x":665.7,"y":370},{"x":673.3,"y":366.3},{"x":680,"y":362},{"x":686.7,"y":357.7},{"x":693.3,"y":353.7},{"x":700,"y":349.7},{"x":706.7,"y":346},{"x":713.3,"y":342},{"x":720,"y":338},
{"x":667.3,"y":379.3},{"x":675,"y":375},{"x":682.3,"y":371},{"x":689,"y":366.7},{"x":695,"y":362.3},{"x":702,"y":358},{"x":709,"y":354.3},{"x":715.7,"y":350},{"x":722.3,"y":346},{"x":729.3,"y":342},
{"x":684.3,"y":380.3},{"x":692.3,"y":376},{"x":699,"y":371.7},{"x":706,"y":367.3},{"x":711.7,"y":363.3},{"x":718.3,"y":359.3},{"x":725,"y":355},{"x":731.7,"y":351},{"x":738.3,"y":346.7},{"x":745,"y":340},
{"x":693.3,"y":385},{"x":701,"y":380.7},{"x":708.3,"y":376},{"x":715,"y":372.3},{"x":720.7,"y":368},{"x":727.3,"y":364},{"x":734,"y":359.3},{"x":741,"y":355.3},{"x":747.7,"y":351.3},{"x":754.3,"y":344.7},
{"x":710,"y":385.7},{"x":717.7,"y":381.3},{"x":724.3,"y":376.7},{"x":730.7,"y":372.3},{"x":737.3,"y":368.3},{"x":744,"y":364},{"x":750,"y":359.7},{"x":757.7,"y":355.3},{"x":764,"y":350},
{"x":720,"y":390.7},{"x":727.3,"y":386},{"x":734,"y":381.3},{"x":740,"y":376.7},{"x":746.7,"y":372.3},{"x":752.7,"y":368},{"x":759.3,"y":364},{"x":766.7,"y":359.3},{"x":773.3,"y":350}
],
"special":[
{"x":556,"y":32.7},{"x":483.3,"y":148},{"x":677.3,"y":130},{"x":610.3,"y":100.7},
{"x":400,"y":256.7},{"x":450.7,"y":314},
{"x":604,"y":282.7},{"x":614,"y":299},{"x":773.3,"y":279},{"x":784,"y":271.3}
],
"sans":[
{"t":"0.25","x":447.7,"y":67.7},{"t":"0.0","x":451.7,"y":113.3},{"t":"-0.25","x":447.7,"y":160},{"t":"1","x":462.7,"y":172.3},{"t":"15","x":596.7,"y":204},{"t":"1","x":622.3,"y":201},{"t":"15","x":694,"y":150.3},
{"t":"0.5","x":299.3,"y":282.3},{"t":"0.0","x":305,"y":370},{"t":"1","x":318.3,"y":382.3},{"t":"10","x":445,"y":406.7},{"t":"1","x":468.3,"y":405},{"t":"10","x":527.7,"y":364},
{"t":"0.25","x":568.3,"y":279.3},{"t":"0.0","x":574,"y":368.3},{"t":"1","x":585,"y":378.3},{"t":"10","x":711,"y":404},{"t":"1","x":738.3,"y":401.7},{"t":"10","x":808.3,"y":356.7},
{"t":"y","x":23.7,"y":176.7},{"t":"x","x":42.7,"y":205.7},{"t":"0","x":314.3,"y":111}
],
"letters":[{"t":"(a)","x":8.7,"y":14},{"t":"(b)","x":416,"y":9},{"t":"(c)","x":14,"y":247.7},{"t":"(d)","x":271,"y":248.3}],
"small":[
{"t":"1","x":47.7,"y":240.3},{"t":"2","x":65.7,"y":240.3},{"t":"3","x":83,"y":240.3},{"t":"4","x":100,"y":240.3},{"t":"n","x":207.5,"y":240},
{"t":"1","x":242.3,"y":261},{"t":"2","x":242.7,"y":277},{"t":"3","x":241.7,"y":294},{"t":"4","x":241.7,"y":309},{"t":"n","x":240.5,"y":399},
{"t":"γ","x":239.3,"y":20},{"t":"γ'","x":240,"y":36}
],
"tiny":[{"t":"y","x":211.5,"y":243},{"t":"x","x":245,"y":402}],
"gamma":[{"t":"γ","x":329,"y":36},{"t":"γ'","x":400,"y":99.3}],
"mathN":[{"t":"n","x":525,"y":191.7},{"t":"n","x":673.3,"y":181.7},{"t":"n","x":364,"y":403.3},{"t":"n","x":506.7,"y":390.7},{"t":"n","x":637.3,"y":403.3},{"t":"n","x":779.3,"y":390}],
"mathSub":[{"t":"x","x":536.7,"y":196.7},{"t":"y","x":684.3,"y":188.3},{"t":"x","x":375.7,"y":408.3},{"t":"y","x":518.3,"y":396.7},{"t":"x","x":649.3,"y":408.3},{"t":"y","x":790.7,"y":395.7}],
"mathQ":[{"t":"Q","x":427.3,"y":109.3},{"t":"|Q|","x":275.7,"y":325}],
"legendBox":[{"x":203.3,"x2":246.7,"y":9.3,"y2":45}],
"up":[{"x":315,"y":36}],"right":[{"x":385,"y":98.7}],"upS":[{"x":16.7,"y":174}],"rightS":[{"x":44,"y":199}]
},
"encoding":{"x":{"field":"x","type":"quantitative","axis":null,"scale":{"domain":[0,830],"nice":false,"zero":false}},"y":{"field":"y","type":"quantitative","axis":null,"scale":{"domain":[419,0],"nice":false,"zero":false}}},
"layer":[
{"data":{"name":"panes"},"mark":{"type":"area","orient":"vertical","opacity":1},"encoding":{"y2":{"field":"y2"},"detail":{"field":"p"},"color":{"field":"w","type":"nominal","legend":null,"scale":{"domain":["L","R","F"],"range":["#f3f3f3","#e5e5e5","#eeeeee"]}}}},
{"data":{"name":"tri"},"mark":{"type":"area","orient":"vertical","color":"#9cc9f5","opacity":1},"encoding":{"y2":{"field":"y2"},"detail":{"field":"p"}}},
{"data":{"name":"grid"},"mark":{"type":"rule","color":"#bcbcbc","strokeWidth":1},"encoding":{"x2":{"field":"x2"},"y2":{"field":"y2"}}},
{"data":{"name":"axes"},"mark":{"type":"rule","color":"#111111","strokeWidth":1},"encoding":{"x2":{"field":"x2"},"y2":{"field":"y2"}}},
{"data":{"name":"thin"},"mark":{"type":"rule","color":"#8a8a8a","strokeWidth":0.8},"encoding":{"x2":{"field":"x2"},"y2":{"field":"y2"}}},
{"data":{"name":"dashes"},"mark":{"type":"rule","color":"#222222","strokeWidth":1,"strokeDash":[3,2]},"encoding":{"x2":{"field":"x2"},"y2":{"field":"y2"}}},
{"data":{"name":"navy"},"mark":{"type":"rule","color":"#10294a","strokeWidth":1.6},"encoding":{"x2":{"field":"x2"},"y2":{"field":"y2"}}},
{"data":{"name":"black"},"mark":{"type":"rule","color":"#222222","strokeWidth":1},"encoding":{"x2":{"field":"x2"},"y2":{"field":"y2"}}},
{"data":{"name":"legendBox"},"mark":{"type":"rect","fill":"white","stroke":"#7db8f0","strokeWidth":1,"cornerRadius":6},"encoding":{"x2":{"field":"x2"},"y2":{"field":"y2"}}},
{"data":{"name":"orangeBonds"},"mark":{"type":"rule","color":"#ff8c12","strokeWidth":2.6},"encoding":{"x2":{"field":"x2"},"y2":{"field":"y2"}}},
{"data":{"name":"blueBonds"},"mark":{"type":"rule","color":"#2277ee","strokeWidth":4},"encoding":{"x2":{"field":"x2"},"y2":{"field":"y2"}}},
{"data":{"name":"nodes"},"mark":{"type":"point","filled":true,"color":"#3fb9f0","opacity":1,"size":160}},
{"data":{"name":"hydrogens"},"mark":{"type":"point","filled":true,"fill":"white","stroke":"#555555","strokeWidth":0.8,"opacity":1,"size":14}},
{"data":{"name":"atoms"},"mark":{"type":"point","filled":true,"color":"#000000","opacity":1,"size":88}},
{"data":{"name":"up"},"mark":{"type":"point","filled":true,"shape":"triangle-up","color":"#10294a","opacity":1,"size":90}},
{"data":{"name":"right"},"mark":{"type":"point","filled":true,"shape":"triangle-right","color":"#10294a","opacity":1,"size":90}},
{"data":{"name":"upS"},"mark":{"type":"point","filled":true,"shape":"triangle-up","color":"#222222","opacity":1,"size":14}},
{"data":{"name":"rightS"},"mark":{"type":"point","filled":true,"shape":"triangle-right","color":"#222222","opacity":1,"size":14}},
{"data":{"name":"hexes"},"transform":[{"filter":"datum.c < 10"}],"mark":{"type":"point","filled":false,"shape":"M1,0L2,0","color":"#ff9a20","strokeWidth":1.4,"opacity":1,"size":140}},
{"data":{"name":"hexes"},"transform":[{"filter":"datum.r < 10"}],"mark":{"type":"point","filled":false,"shape":"M-.5,.866L-1.03,1.68M.5,.866L1.03,1.68","color":"#ff9a20","strokeWidth":1.4,"opacity":1,"size":140}},
{"data":{"name":"hexes"},"mark":{"type":"point","filled":false,"shape":"M1,0L.5,.866L-.5,.866L-1,0L-.5,-.866L.5,-.866Z","color":"#20dcf2","strokeWidth":2.2,"opacity":1,"size":140}},
{"data":{"name":"hexes"},"mark":{"type":"point","filled":false,"shape":"M-.3,.866L.3,.866M-.3,-.866L.3,-.866","color":"#4c8cf5","strokeWidth":1.4,"opacity":1,"size":140}},
{"data":{"name":"hexes"},"mark":{"type":"point","filled":true,"shape":"M1.35,0L1,.35L.65,0L1,-.35ZM.85,.866L.5,1.216L.15,.866L.5,.516ZM-.15,.866L-.5,1.216L-.85,.866L-.5,.516ZM-.65,0L-1,.35L-1.35,0L-1,-.35ZM-.15,-.866L-.5,-.516L-.85,-.866L-.5,-1.216ZM.85,-.866L.5,-.516L.15,-.866L.5,-1.216Z","color":"#20dcf2","opacity":1,"size":140}},
{"data":{"name":"dots"},"mark":{"type":"point","filled":true,"color":"#2e86ea","opacity":1,"size":26}},
{"data":{"name":"special"},"mark":{"type":"point","filled":true,"fill":"#2e86ea","stroke":"#111111","strokeWidth":1,"opacity":1,"size":20}},
{"data":{"name":"sans"},"mark":{"type":"text","font":"Liberation Sans","fontSize":11,"color":"#222222","align":"center","baseline":"middle"},"encoding":{"text":{"field":"t"}}},
{"data":{"name":"letters"},"mark":{"type":"text","font":"Liberation Sans","fontSize":13,"color":"#222222","align":"center","baseline":"middle"},"encoding":{"text":{"field":"t"}}},
{"data":{"name":"small"},"mark":{"type":"text","font":"Liberation Sans","fontSize":9,"color":"#333333","align":"center","baseline":"middle"},"encoding":{"text":{"field":"t"}}},
{"data":{"name":"tiny"},"mark":{"type":"text","font":"Liberation Sans","fontSize":6,"color":"#333333","align":"center","baseline":"middle"},"encoding":{"text":{"field":"t"}}},
{"data":{"name":"gamma"},"mark":{"type":"text","font":"Liberation Sans","fontSize":17,"color":"#222222","align":"center","baseline":"middle"},"encoding":{"text":{"field":"t"}}},
{"data":{"name":"mathN"},"mark":{"type":"text","font":"DejaVu Serif","fontStyle":"italic","fontSize":17,"color":"#111111","align":"center","baseline":"middle"},"encoding":{"text":{"field":"t"}}},
{"data":{"name":"mathSub"},"mark":{"type":"text","font":"DejaVu Serif","fontStyle":"italic","fontSize":12,"color":"#111111","align":"center","baseline":"middle"},"encoding":{"text":{"field":"t"}}},
{"data":{"name":"mathQ"},"mark":{"type":"text","font":"DejaVu Serif","fontStyle":"italic","fontSize":15,"color":"#111111","align":"center","baseline":"middle"},"encoding":{"text":{"field":"t"}}}
]}
